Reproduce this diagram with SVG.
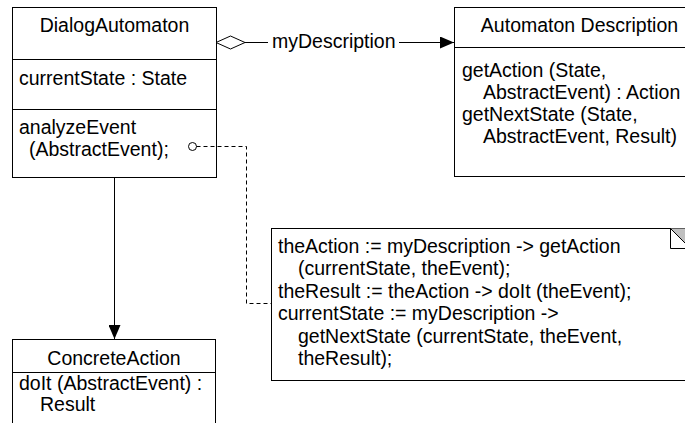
<svg xmlns="http://www.w3.org/2000/svg" width="685" height="423" viewBox="0 0 685 423">
<defs>
<style>
.box{fill:#fff;stroke:#000;stroke-width:1}
.ln{fill:none;stroke:#000;stroke-width:1}
.dash{fill:none;stroke:#000;stroke-width:1;stroke-dasharray:4 3}
text{font-family:"Liberation Sans",Arial,sans-serif;font-size:19.5px;fill:#000}
.c{text-anchor:middle}
</style>
<marker id="tri" markerWidth="14" markerHeight="12" refX="14" refY="6" orient="auto" markerUnits="userSpaceOnUse">
<path d="M0,0 L14,6 L0,12 Z" fill="#000"/>
</marker>
</defs>
<rect width="685" height="423" fill="#fff"/>
<g id="DialogAutomaton">
<rect class="box" x="12.5" y="7.5" width="204" height="170"/>
<path class="ln" d="M12.5,59.5 H216.5 M12.5,109.5 H216.5"/>
<text class="c" x="114.5" y="32">DialogAutomaton</text>
<text x="19" y="85">currentState : State</text>
<text x="19" y="134">analyzeEvent</text>
<text x="29" y="156">(AbstractEvent);</text>
</g>
<g id="AutomatonDescription">
<rect class="box" x="454.5" y="7.5" width="250" height="169"/>
<path class="ln" d="M454.5,47.5 H704.5"/>
<text class="c" x="579.5" y="32">Automaton Description</text>
<text x="462" y="77">getAction (State,</text>
<text x="483" y="99">AbstractEvent) : Action</text>
<text x="462" y="121">getNextState (State,</text>
<text x="483" y="143">AbstractEvent, Result)</text>
</g>
<g id="Note">
<rect class="box" x="271.5" y="228.5" width="430" height="152"/>
<polygon points="670.5,228.5 686,228.5 686,244" fill="#c0c0c0"/>
<path class="ln" d="M670.5,228.5 V248.5 H686 M670.5,228.5 L690,248"/>
<text x="278" y="253">theAction := myDescription -&gt; getAction</text>
<text x="298" y="275.4">(currentState, theEvent);</text>
<text x="278" y="297.8">theResult := theAction -&gt; doIt (theEvent);</text>
<text x="278" y="320.2">currentState := myDescription -&gt;</text>
<text x="298" y="342.6">getNextState (currentState, theEvent,</text>
<text x="298" y="365">theResult);</text>
</g>
<g id="ConcreteAction">
<rect class="box" x="12.5" y="339.5" width="203" height="100"/>
<path class="ln" d="M12.5,372.5 H215.5"/>
<text class="c" x="114" y="365">ConcreteAction</text>
<text x="19" y="390">doIt (AbstractEvent) :</text>
<text x="40" y="411">Result</text>
</g>
<g id="connectors">
<path class="ln" d="M245,42.5 H268"/>
<path class="ln" d="M399,42.5 H454" marker-end="url(#tri)"/>
<polygon points="216,42.5 230.5,36 245,42.5 230.5,49" fill="#fff" stroke="#000"/>
<text x="272" y="48">myDescription</text>
<path class="ln" d="M114.5,177.5 V339" marker-end="url(#tri)"/>
<circle cx="192.5" cy="146.5" r="4" fill="#fff" stroke="#000"/>
<path class="dash" d="M196.5,146.5 H246.5 V303.5 H271"/>
</g>
</svg>
